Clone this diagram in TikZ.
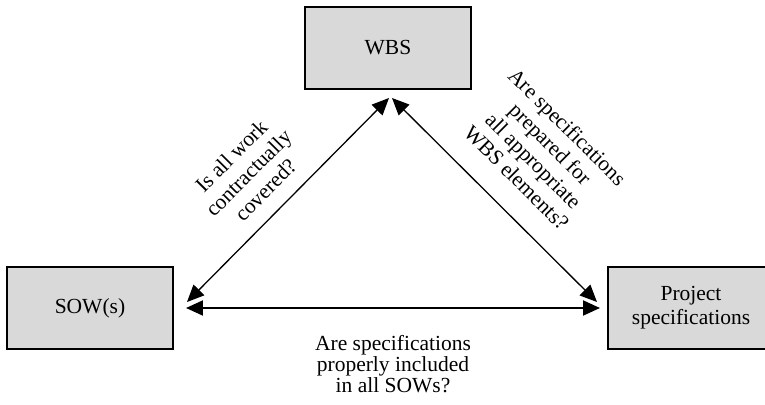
\documentclass[tikz,border=0pt]{standalone}
\usepackage{fontspec}
\setmainfont{Liberation Serif}
\usepackage{tikz}
\usetikzlibrary{matrix,arrows.meta}

\begin{document}
\begin{tikzpicture}[>={Triangle[length=17pt,width=15pt]},
    font=\fontsize{21.5}{24}\selectfont,
    ask/.style={inner sep=0pt,align=center}]
    \matrix (plan) [%
      matrix of nodes,
      nodes={draw,line width=2pt,fill=black!15,minimum width=166pt,minimum height=82pt,
        text width=150pt,anchor=center,align=center},
      column sep=130pt,
      row sep=176pt,
    ]
    {
               & WBS &[5pt] \\
        SOW(s) &     & Project\par specifications \\
    };
    \draw[<->,line width=1.3pt] ([shift={(13pt,6pt)}]plan-2-1.east) -- ([shift={(1pt,-8pt)}]plan-1-2.south)
      node [pos=0.47,above=15pt,sloped,ask] {Is all work\\contractually\\covered?};
    \draw[<->,line width=1.3pt] ([shift={(4pt,-8pt)}]plan-1-2.south) -- ([shift={(-10pt,6pt)}]plan-2-3.west)
      node [midway,above=23pt,sloped,ask] {Are specifications\\prepared for\\all appropriate\\WBS elements?};
    \draw[<->,line width=2pt] ([xshift=12pt]plan-2-1.east) -- ([xshift=-7pt]plan-2-3.west)
      node [midway,below=26pt,ask,font=\fontsize{21.5}{21}\selectfont] {Are specifications\\properly included\\in all SOWs?};
    \pgfresetboundingbox
    \useasboundingbox ([shift={(-90pt,-96pt)}]plan-2-1.center) rectangle ([shift={(675pt,308pt)}]plan-2-1.center);
\end{tikzpicture}
\end{document}
